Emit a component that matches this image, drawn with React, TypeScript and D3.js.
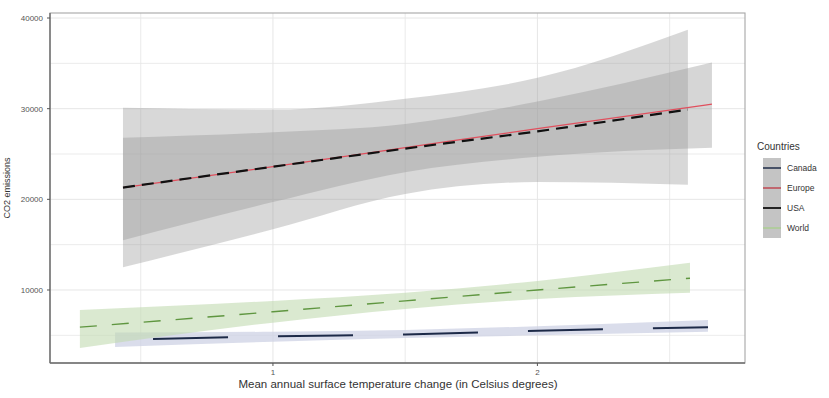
import React from "react";
import * as d3 from "d3";

// Fitted trends with confidence bands, per country group
const groups = ["Canada", "Europe", "USA", "World"];

const canadaX = [0.403, 1.0, 1.5, 2.0, 2.645];
const canadaFit = [4500, 4900, 5100, 5500, 5900];
const canadaLow = [3700, 4300, 4700, 5000, 5400];
const canadaHigh = [5300, 5400, 5600, 6000, 6700];

const europeX = [0.433, 1.0, 1.5, 2.0, 2.66];
const europeFit = [21300, 23600, 25700, 27800, 30500];
const europeLow = [15500, 19700, 23000, 24700, 25700];
const europeHigh = [26800, 27400, 28300, 30800, 35100];

const usaX = [0.433, 1.0, 1.5, 2.0, 2.569];
const usaFit = [21300, 23600, 25600, 27500, 29900];
const usaLow = [12500, 16700, 20600, 21900, 21600];
const usaHigh = [30100, 29900, 31100, 33400, 38700];

const worldX = [0.27, 1.0, 1.5, 2.0, 2.577];
const worldFit = [5900, 7600, 8800, 10000, 11300];
const worldLow = [3600, 6400, 7900, 9000, 9700];
const worldHigh = [7800, 8800, 9700, 11000, 13000];

const xTicks = [1, 2];
const xMinor = [0.5, 1.5, 2.5];
const yTicks = [10000, 20000, 30000, 40000];
const yMinor = [5000, 15000, 25000, 35000];

const xTitle = "Mean annual surface temperature change (in Celsius degrees)";
const yTitle = "CO2 emissions";
const legendTitle = "Countries";

type Pt = { x: number; fit: number; lo: number; hi: number };
const zip = (xs: number[], f: number[], lo: number[], hi: number[]): Pt[] =>
  xs.map((x, i) => ({ x, fit: f[i], lo: lo[i], hi: hi[i] }));

const series = [
  { name: "Canada", pts: zip(canadaX, canadaFit, canadaLow, canadaHigh), ribbon: "#cdd2e4", ribbonOpacity: 0.75, line: "#1d2a48", dash: "75 50", dashOffset: -38 + 125, width: 2 },
  { name: "Europe", pts: zip(europeX, europeFit, europeLow, europeHigh), ribbon: "#999999", ribbonOpacity: 0.4, line: "#e0505e", dash: "", dashOffset: 0, width: 1.3 },
  { name: "USA", pts: zip(usaX, usaFit, usaLow, usaHigh), ribbon: "#999999", ribbonOpacity: 0.38, line: "#111111", dash: "12 7", dashOffset: 0, width: 2.2 },
  { name: "World", pts: zip(worldX, worldFit, worldLow, worldHigh), ribbon: "#c2dbb0", ribbonOpacity: 0.6, line: "#5f9640", dash: "17 15", dashOffset: 0, width: 1.4 },
];

const legendLines: Record<string, { color: string; width: number }> = {
  Canada: { color: "#2a3650", width: 1.6 },
  Europe: { color: "#c0505a", width: 1.6 },
  USA: { color: "#111111", width: 1.8 },
  World: { color: "#a9cf8e", width: 1.4 },
};

export default function App() {
  const W = 829;
  const H = 398;
  const left = 50, right = 745, top = 13, bottom = 363;

  const x = d3.scaleLinear().domain([0.157, 2.785]).range([left, right]);
  const y = d3.scaleLinear().domain([1948, 40553]).range([bottom, top]);

  const area = d3
    .area<Pt>()
    .x((d) => x(d.x))
    .y0((d) => y(d.lo))
    .y1((d) => y(d.hi))
    .curve(d3.curveMonotoneX);
  const line = d3
    .line<Pt>()
    .x((d) => x(d.x))
    .y((d) => y(d.fit))
    .curve(d3.curveMonotoneX);

  const font = "Liberation Sans, Arial, sans-serif";
  const gridColor = "#e6e6e6";

  return (
    <svg
      width={W}
      height={H}
      style={{ position: "absolute", left: 0, top: 0, background: "#fff" }}
      fontFamily={font}
    >
      <rect x={0} y={0} width={W} height={H} fill="#fff" />
      {/* grid */}
      <g>
        {yMinor.map((v) => (
          <line key={"ym" + v} x1={left} x2={right} y1={y(v)} y2={y(v)} stroke={gridColor} strokeWidth={0.8} />
        ))}
        {xMinor.map((v) => (
          <line key={"xm" + v} x1={x(v)} x2={x(v)} y1={top} y2={bottom} stroke={gridColor} strokeWidth={0.8} />
        ))}
        {yTicks.map((v) => (
          <line key={"yg" + v} x1={left} x2={right} y1={y(v)} y2={y(v)} stroke={gridColor} strokeWidth={1} />
        ))}
        {xTicks.map((v) => (
          <line key={"xg" + v} x1={x(v)} x2={x(v)} y1={top} y2={bottom} stroke={gridColor} strokeWidth={1} />
        ))}
      </g>
      {/* bands */}
      <g>
        {series.map((s) => (
          <path key={"r" + s.name} d={area(s.pts) || ""} fill={s.ribbon} fillOpacity={s.ribbonOpacity} />
        ))}
      </g>
      {/* fitted lines */}
      <g fill="none">
        {series.map((s) => (
          <path
            key={"l" + s.name}
            d={line(s.pts) || ""}
            stroke={s.line}
            strokeWidth={s.width}
            strokeDasharray={s.dash || undefined}
            strokeDashoffset={s.dashOffset}
          />
        ))}
      </g>
      {/* panel border and axes */}
      <rect x={left} y={top} width={right - left} height={bottom - top} fill="none" stroke="#a6a6a6" strokeWidth={1.1} />
      <line x1={left} x2={left} y1={top} y2={bottom} stroke="#6e6e6e" strokeWidth={1.4} />
      <line x1={left} x2={right} y1={bottom} y2={bottom} stroke="#6e6e6e" strokeWidth={1.4} />
      {xTicks.map((v) => (
        <g key={"xt" + v}>
          <line x1={x(v)} x2={x(v)} y1={bottom} y2={bottom + 3} stroke="#555" strokeWidth={1} />
          <text x={x(v)} y={bottom + 12} fontSize={8} fill="#555" textAnchor="middle">
            {v}
          </text>
        </g>
      ))}
      {yTicks.map((v) => (
        <g key={"yt" + v}>
          <line x1={left - 3} x2={left} y1={y(v)} y2={y(v)} stroke="#555" strokeWidth={1} />
          <text x={left - 7} y={y(v) + 3} fontSize={8} fill="#555" textAnchor="end">
            {v}
          </text>
        </g>
      ))}
      <text x={398} y={388} fontSize={11.5} fill="#333" textAnchor="middle">
        {xTitle}
      </text>
      <text
        transform={`translate(10,${(top + bottom) / 2}) rotate(-90)`}
        fontSize={9}
        fill="#333"
        textAnchor="middle"
      >
        {yTitle}
      </text>
      {/* legend */}
      <g>
        <text x={757} y={150} fontSize={10} fill="#333">
          {legendTitle}
        </text>
        {groups.map((g, i) => {
          const ky = 158 + i * 20;
          const ls = legendLines[g];
          return (
            <g key={"lg" + g}>
              <rect x={763} y={ky} width={18} height={20} fill="#c4c4c4" />
              <line x1={763} x2={781} y1={ky + 10} y2={ky + 10} stroke={ls.color} strokeWidth={ls.width} />
              <text x={787} y={ky + 13} fontSize={8.5} fill="#333">
                {g}
              </text>
            </g>
          );
        })}
      </g>
    </svg>
  );
}
